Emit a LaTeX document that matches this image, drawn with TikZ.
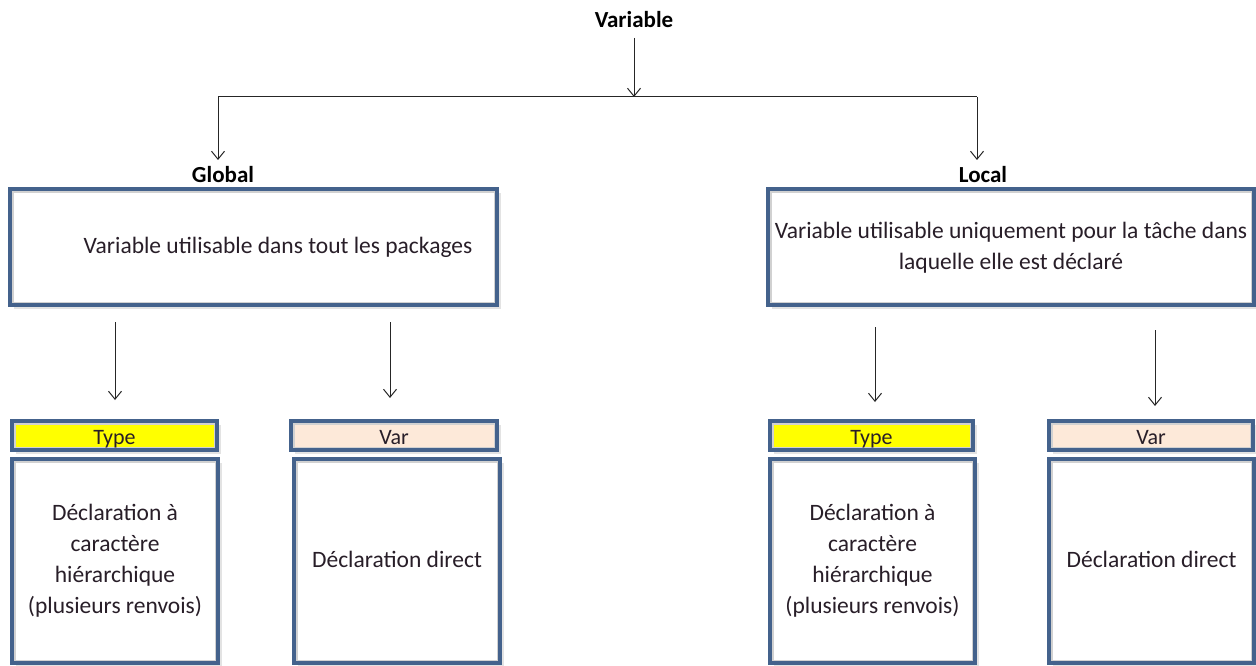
\documentclass[tikz,border=0pt]{standalone}
\usepackage{fontspec}
\setmainfont{Carlito}
\usetikzlibrary{shadows,arrows.meta}
\definecolor{boxblue}{RGB}{68,98,140}
\definecolor{varfill}{RGB}{253,233,217}
\definecolor{typefill}{RGB}{255,255,0}
\definecolor{txt}{RGB}{40,30,40}
\begin{document}
\begin{tikzpicture}[x=1pt,y=-1pt,
  frame/.style={draw=boxblue, line width=3.3pt, fill=white, inner sep=0pt,
    path picture={\draw[black!18, line width=7pt] (path picture bounding box.south west) rectangle (path picture bounding box.north east);},
    drop shadow={opacity=0.22, shadow xshift=3.5pt, shadow yshift=-4pt}},
  hdr/.style={frame, minimum height=29pt, font=\fontsize{22}{25}\selectfont, text=txt, text height=20pt, text depth=3pt},
  body/.style={frame, minimum width=206pt, minimum height=204pt},
  btxt/.style={align=center, font=\fontsize{23.5}{31}\selectfont, text=txt, inner sep=0pt},
  ttl/.style={font=\fontsize{23}{27}\selectfont\bfseries, inner sep=0pt},
  arr/.style={-{Straight Barb[length=8pt,width=13pt,line width=1pt]}, line width=1pt, black!85}]
\useasboundingbox (0,0) rectangle (1256,666);
\fill[white] (0,0) rectangle (1256,666);

% titles
\node[ttl] (var) at (634,20) {Variable};
\node[ttl] (glob) at (223,175) {Global};
\node[ttl] (loc) at (983,175) {Local};

% top connector
\coordinate (vtop) at (634,38);
\coordinate (junc) at (634,97);
\coordinate (jl) at (218,97);
\coordinate (jr) at (977,97);
\coordinate (gl) at (218,160);
\coordinate (lr) at (977,160);
\draw[arr] (vtop) -- (junc);
\draw[line width=1pt, black!85] (jl) -- (jr);
\draw[arr] (jl) -- (gl);
\draw[arr] (jr) -- (lr);

% main boxes
\node[frame, minimum width=487pt, minimum height=116pt] (gbox) at (253.5,247) {};
\node[btxt] (gtext) at (278,247) {Variable utilisable dans tout les packages};
\node[frame, minimum width=486pt, minimum height=116pt] (lbox) at (1011,247) {};
\node[btxt] (ltext) at (1011,248) {Variable utilisable uniquement pour la tâche dans\\laquelle elle est déclaré};

% lower arrows
\coordinate (a1s) at (115,322); \coordinate (a1e) at (115,400);
\coordinate (a2s) at (390,322); \coordinate (a2e) at (390,398);
\coordinate (a3s) at (875,327); \coordinate (a3e) at (875,402);
\coordinate (a4s) at (1155,330); \coordinate (a4e) at (1155,406);
\draw[arr] (a1s) -- (a1e);
\draw[arr] (a2s) -- (a2e);
\draw[arr] (a3s) -- (a3e);
\draw[arr] (a4s) -- (a4e);

% headers
\node[hdr, fill=typefill, minimum width=205pt] (th1) at (114.5,435.5) {Type};
\node[hdr, fill=varfill, minimum width=206pt] (vh1) at (394,435.5) {Var};
\node[hdr, fill=typefill, minimum width=203pt] (th2) at (871.5,435.5) {Type};
\node[hdr, fill=varfill, minimum width=204pt] (vh2) at (1151,435.5) {Var};

% bodies
\node[body] (tb1) at (115,561) {};
\node[btxt] (tt1) at (115,560.5) {Déclaration à\\caractère\\hiérarchique\\(plusieurs renvois)};
\node[body] (vb1) at (397,561) {};
\node[btxt] (vt1) at (397,559) {Déclaration direct};
\node[body, minimum width=205pt] (tb2) at (872.5,561) {};
\node[btxt] (tt2) at (872.5,560.5) {Déclaration à\\caractère\\hiérarchique\\(plusieurs renvois)};
\node[body, minimum width=205pt] (vb2) at (1151.5,561) {};
\node[btxt] (vt2) at (1151.5,559) {Déclaration direct};
\end{tikzpicture}
\end{document}
